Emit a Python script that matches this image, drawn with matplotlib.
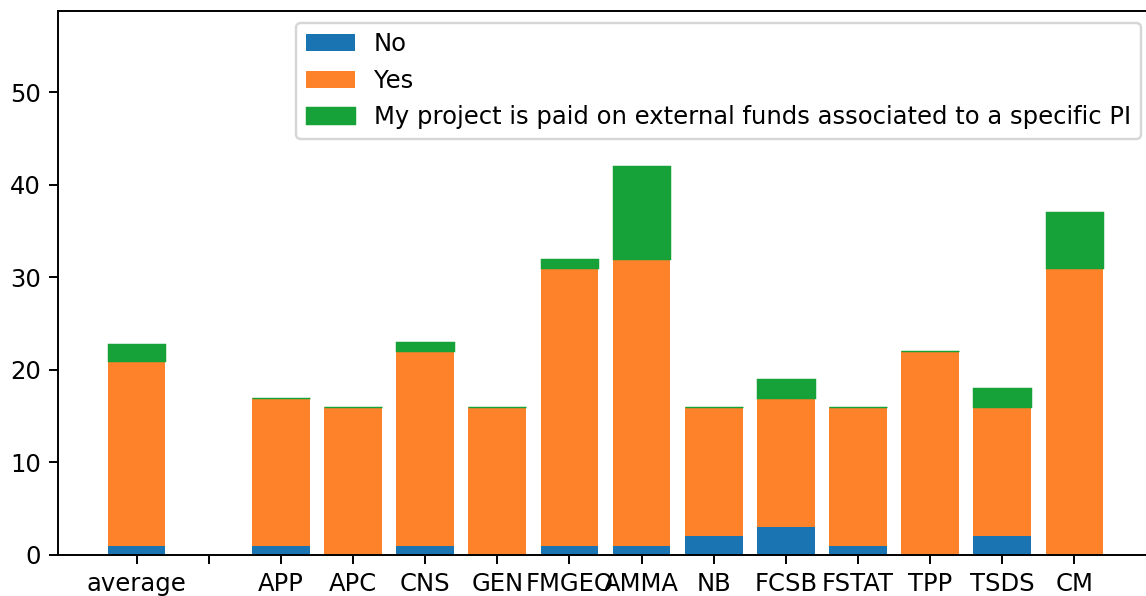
import numpy as np
import matplotlib
matplotlib.use("Agg")
import matplotlib.pyplot as plt

labels = ["average", "", "APP", "APC", "CNS", "GEN", "FMGEO", "AMMA",
          "NB", "FCSB", "FSTAT", "TPP", "TSDS", "CM"]

no  = [1.0, 0, 1, 0, 1, 0, 1, 1, 2, 3, 1, 0, 2, 0]
yes = [20.0, 0, 16, 16, 21, 16, 30, 31, 14, 14, 15, 22, 14, 31]
ext = [1.83, 0, 0, 0, 1, 0, 1, 10, 0, 2, 0, 0, 2, 6]

series_names = ["No", "Yes",
                "My project is paid on external funds associated to a specific PI"]
colors = ["#1a74b2", "#fe822a", "#17a239"]

dpi = 175
fig = plt.figure(figsize=(1146 / dpi, 596 / dpi), dpi=dpi)
ax = fig.add_axes([58 / 1146, 41 / 596, 1095 / 1146, 544.4 / 596])

x = np.arange(len(labels))
no_a, yes_a, ext_a = np.array(no), np.array(yes), np.array(ext)

ax.bar(x, no_a, color=colors[0], label=series_names[0])
ax.bar(x, yes_a, bottom=no_a, color=colors[1], label=series_names[1])
# thin edge so empty green segments still leave the hairline seen in the original
ax.bar(x, ext_a, bottom=no_a + yes_a, color=colors[2], edgecolor=colors[2],
       linewidth=0.6, label=series_names[2])

ax.set_xticks(x)
ax.set_xticklabels(labels)
ax.set_ylim(0, 58.8)
ax.legend(loc="upper right")

fig.savefig("out.png", dpi=dpi)
